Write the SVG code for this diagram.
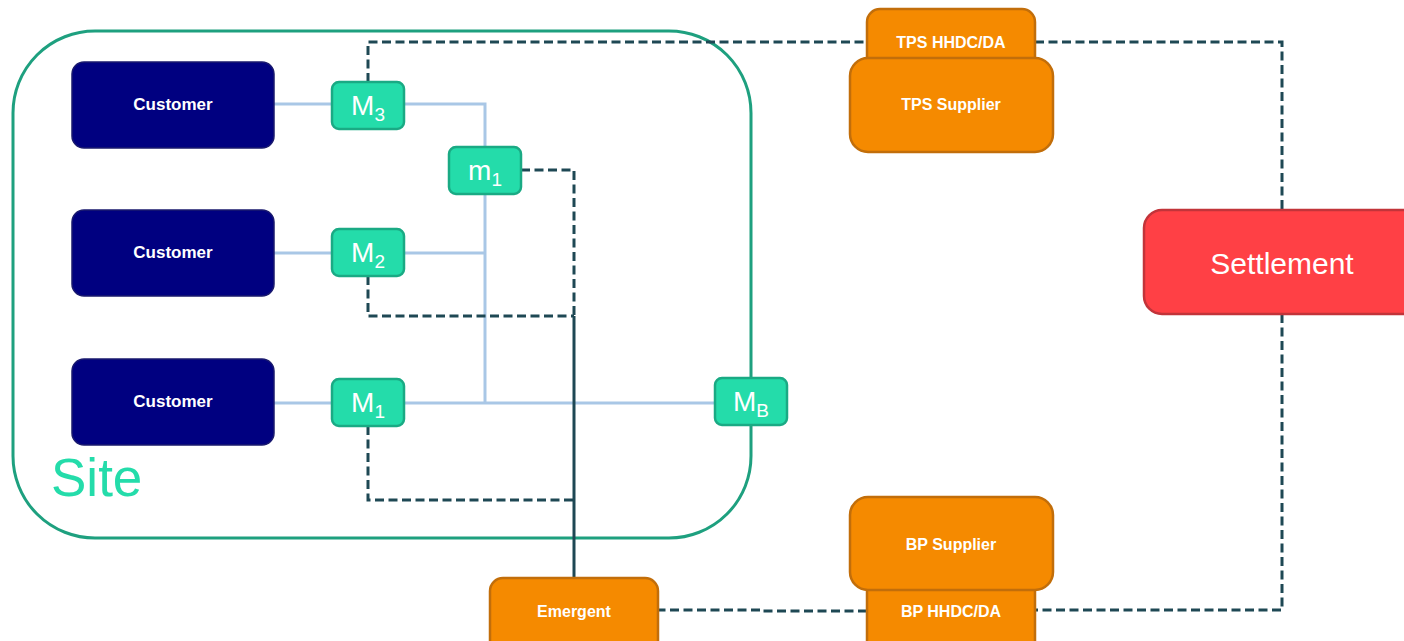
<svg xmlns="http://www.w3.org/2000/svg" width="1404" height="641" viewBox="0 0 1404 641">
<style>
.cust rect{fill:#000080;stroke:#1a1a6e;stroke-width:1.5}
.cust text{fill:#fff;font:bold 17px "Liberation Sans",Arial,sans-serif;text-anchor:middle}
.meter rect{fill:#24DCAA;stroke:#1AAA84;stroke-width:2.5}
.meter text{fill:#fff;font:28px "Liberation Sans",Arial,sans-serif;text-anchor:middle}
.meter tspan.sub{font-size:19px}
.org rect{fill:#F58A00;stroke:#C26E0A;stroke-width:2.5}
.org text{fill:#fff;font:bold 16px "Liberation Sans",Arial,sans-serif;text-anchor:middle}
.wire{fill:none;stroke:#A9C7E6;stroke-width:3}
.dash{fill:none;stroke:#1E4854;stroke-width:3;stroke-dasharray:9 4.5}
.solid{fill:none;stroke:#1E4854;stroke-width:3}
</style>
<rect width="1404" height="641" fill="#fff"/>
<g id="site">
<rect x="13" y="31" width="738" height="507" rx="82" fill="none" stroke="#1EA07F" stroke-width="3"/>
<text x="51" y="496" fill="#24DCAA" font-family="Liberation Sans, Arial, sans-serif" font-size="53">Site</text>
</g>
<g id="connectors">
<path class="wire" d="M274 104H332"/>
<path class="wire" d="M274 253H332"/>
<path class="wire" d="M274 403H332"/>
<path class="wire" d="M404 104H485V147"/>
<path class="wire" d="M485 194V403"/>
<path class="wire" d="M404 253H485"/>
<path class="wire" d="M404 403H715"/>
<path class="solid" d="M574 316V578"/>
<path class="dash" d="M368 82V42H867"/>
<path class="dash" d="M1035 42H1282V210"/>
<path class="dash" d="M1282 314V610H1035"/>
<path class="dash" d="M867 611H762V610H658"/>
<path class="dash" d="M521 170H574V316"/>
<path class="dash" d="M368 276V316H574"/>
<path class="dash" d="M368 426V500H574"/>
</g>
<g id="customer3" class="cust"><rect x="72" y="62" width="202" height="86" rx="12"/><text x="173" y="110">Customer</text></g>
<g id="customer2" class="cust"><rect x="72" y="210" width="202" height="86" rx="12"/><text x="173" y="258">Customer</text></g>
<g id="customer1" class="cust"><rect x="72" y="359" width="202" height="86" rx="12"/><text x="173" y="407">Customer</text></g>
<g id="M3" class="meter"><rect x="332" y="82" width="72" height="47" rx="7"/><text x="368" y="115">M<tspan class="sub" dy="6">3</tspan></text></g>
<g id="M2" class="meter"><rect x="332" y="229" width="72" height="47" rx="7"/><text x="368" y="262">M<tspan class="sub" dy="6">2</tspan></text></g>
<g id="M1" class="meter"><rect x="332" y="379" width="72" height="47" rx="7"/><text x="368" y="412">M<tspan class="sub" dy="6">1</tspan></text></g>
<g id="m1" class="meter"><rect x="449" y="147" width="72" height="47" rx="7"/><text x="485" y="180">m<tspan class="sub" dy="6">1</tspan></text></g>
<g id="MB" class="meter"><rect x="715" y="378" width="72" height="47" rx="7"/><text x="751" y="411">M<tspan class="sub" dy="6">B</tspan></text></g>
<g id="tps-hhdc" class="org"><rect x="867" y="9" width="168" height="70" rx="13"/><text x="951" y="48">TPS HHDC/DA</text></g>
<g id="tps-supplier" class="org"><rect x="850" y="58" width="203" height="94" rx="18"/><text x="951" y="110">TPS Supplier</text></g>
<g id="bp-hhdc" class="org"><rect x="867" y="570" width="168" height="90" rx="13"/><text x="951" y="617">BP HHDC/DA</text></g>
<g id="bp-supplier" class="org"><rect x="850" y="497" width="203" height="93" rx="18"/><text x="951" y="550">BP Supplier</text></g>
<g id="emergent" class="org"><rect x="490" y="578" width="168" height="80" rx="13"/><text x="574" y="617">Emergent</text></g>
<g id="settlement"><rect x="1144" y="210" width="280" height="104" rx="18" fill="#FF4045" stroke="#C2343A" stroke-width="2.5"/><text x="1282" y="274" fill="#fff" font-family="Liberation Sans, Arial, sans-serif" font-size="30" text-anchor="middle">Settlement</text></g>
</svg>
